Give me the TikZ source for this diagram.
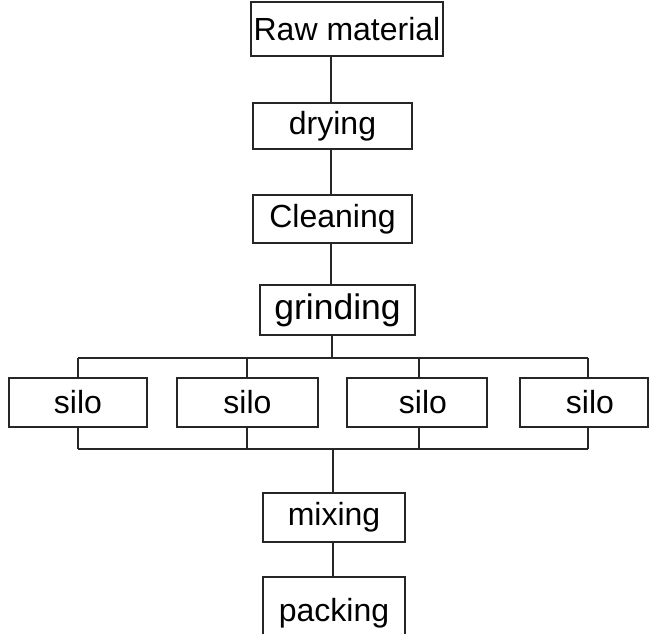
\documentclass[tikz,border=0pt]{standalone}
\usepackage{fontspec}
\setmainfont{Liberation Sans}
\begin{document}
\begin{tikzpicture}[x=1pt,y=-1pt,
  stagebox/.style={draw=black!85, line width=1.3pt, rectangle, inner sep=0pt,
    font=\fontsize{32}{36}\selectfont},
  link/.style={draw=black!85, line width=1.2pt}]
\useasboundingbox (0,0) rectangle (654,633);

% process stages
\node[stagebox, minimum width=192pt, minimum height=54pt] (raw) at (347,29) {Raw material};
\node[stagebox, minimum width=159pt, minimum height=46pt] (dry) at (332.5,126) {drying};
\node[stagebox, minimum width=159pt, minimum height=48pt] (clean) at (332.5,219) {Cleaning};
\node[stagebox, minimum width=155pt, minimum height=50pt,
      font=\fontsize{35.5}{40}\selectfont] (grind) at (337.5,310) {grinding};

% storage silos
\node[stagebox, minimum width=138pt, minimum height=49pt] (s1) at (78,402.5) {silo};
\node[stagebox, minimum width=141pt, minimum height=49pt] (s2) at (247.5,402.5) {silo};
\node[stagebox, minimum width=140pt, minimum height=49pt] (s3) at (417,402.5) {\hspace*{12pt}silo};
\node[stagebox, minimum width=128pt, minimum height=49pt] (s4) at (584,402.5) {\hspace*{12pt}silo};

\node[stagebox, minimum width=142pt, minimum height=49pt] (mix) at (334,517.5) {mixing};
\node[stagebox, minimum width=142pt, minimum height=72pt] (pack) at (334,613) {packing};

% straight feed lines
\coordinate (spine) at (331,0);
\draw[link] (spine |- raw.south) -- (spine |- dry.north);
\draw[link] (spine |- dry.south) -- (spine |- clean.north);
\draw[link] (spine |- clean.south) -- (spine |- grind.north);

% distribution bus above the silos
\coordinate (t0) at (332,358);
\coordinate (t1) at (78,358);
\coordinate (t2) at (247,358);
\coordinate (t3) at (419,358);
\coordinate (t4) at (588,358);
\draw[link] (t0 |- grind.south) -- (t0);
\draw[link] (t1) -- (t4);
\draw[link] (t1) -- (t1 |- s1.north);
\draw[link] (t2) -- (t2 |- s2.north);
\draw[link] (t3) -- (t3 |- s3.north);
\draw[link] (t4) -- (t4 |- s4.north);

% collecting bus below the silos
\coordinate (b0) at (333,449);
\coordinate (b1) at (78,449);
\coordinate (b2) at (247,449);
\coordinate (b3) at (419,449);
\coordinate (b4) at (588,449);
\draw[link] (b1) -- (b4);
\draw[link] (b1 |- s1.south) -- (b1);
\draw[link] (b2 |- s2.south) -- (b2);
\draw[link] (b3 |- s3.south) -- (b3);
\draw[link] (b4 |- s4.south) -- (b4);
\draw[link] (b0) -- (b0 |- mix.north);

\draw[link] (b0 |- mix.south) -- (b0 |- pack.north);
\end{tikzpicture}
\end{document}
